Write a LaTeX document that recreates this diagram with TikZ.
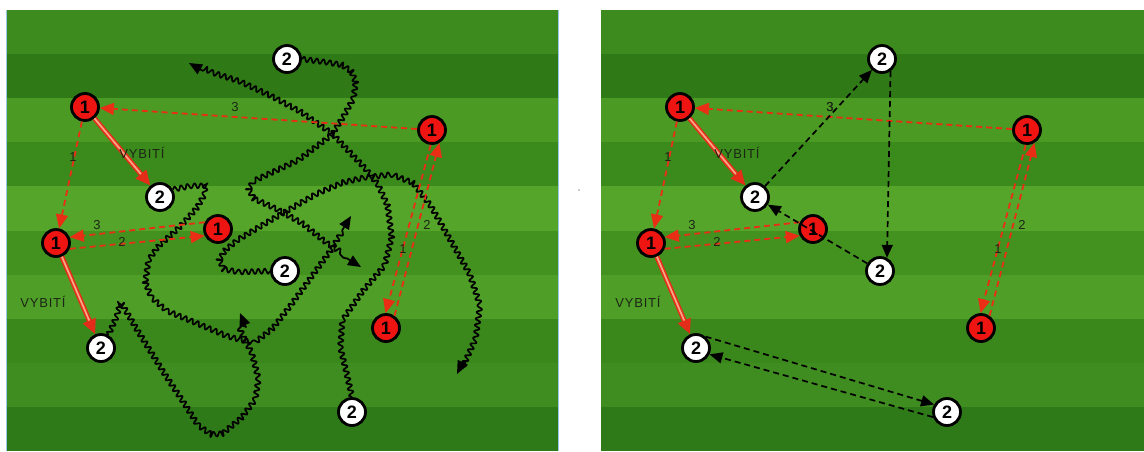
\documentclass[tikz,border=0pt]{standalone}
\usepackage{fontspec}
\setmainfont{Liberation Sans}
\usetikzlibrary{arrows.meta,decorations.pathmorphing,calc}
\definecolor{gA}{HTML}{3D8A1F}
\definecolor{gB}{HTML}{2F7A16}
\definecolor{gC}{HTML}{4A9A24}
\definecolor{gD}{HTML}{3B8A1C}
\definecolor{gE}{HTML}{55A52A}
\definecolor{gF}{HTML}{43921F}
\definecolor{gG}{HTML}{4F9E27}
\definecolor{gH}{HTML}{3A881C}
\definecolor{gI}{HTML}{3F8C20}
\definecolor{gJ}{HTML}{2F7A18}
\definecolor{pfill}{RGB}{238,20,18}
\definecolor{rdash}{RGB}{234,46,22}
\definecolor{vred}{RGB}{228,45,25}
\definecolor{vorange}{RGB}{250,165,130}
\definecolor{labc}{RGB}{28,38,22}
\definecolor{edgeblue}{RGB}{150,200,230}

\newcommand\pitchbands[2]{%
  \foreach \c [count=\i from 0] in {gA,gB,gC,gD,gE,gF,gG,gH,gI,gJ}{%
    \fill[\c] (#1,{10+44.1*\i}) rectangle (#2,{10+44.1*(\i+1)});
  }}

\newcommand\players[2]{%
  \node[pone] (#1A) at ({#2+85},107) {1};
  \node[pone] (#1B) at ({#2+56},243) {1};
  \node[pone] (#1C) at ({#2+218},229) {1};
  \node[pone] (#1D) at ({#2+432},130) {1};
  \node[pone] (#1E) at ({#2+386},328) {1};
  \node[ptwo] (#1a) at ({#2+287},59) {2};
  \node[ptwo] (#1b) at ({#2+160},197) {2};
  \node[ptwo] (#1c) at ({#2+285},271) {2};
  \node[ptwo] (#1d) at ({#2+101},348) {2};
  \node[ptwo] (#1e) at ({#2+352},412) {2};
}

\newcommand\redpasses[2]{%
  \draw[rd] (#1A) -- (#1B);
  \draw[rd] (#1D) -- (#1A);
  \draw[rd] (#1C.153) -- (#1B.23);
  \draw[rd] (#1B.-23) -- (#1C.207);
  \draw[rd] (#1D.-95) -- (#1E.92);
  \draw[rd] (#1E.55) -- (#1D.-60);
  \draw[vyb] (#1A) -- (#1b);
  \draw[vyb] (#1B) -- (#1d);
  \node[lab] (#1n1) at ({#2+73},157) {1};
  \node[lab] (#1n2) at ({#2+235},107) {3};
  \node[lab] (#1n3) at ({#2+97},225) {3};
  \node[lab] (#1n4) at ({#2+122},242) {2};
  \node[lab] (#1n5) at ({#2+403},249) {1};
  \node[lab] (#1n6) at ({#2+427},225) {2};
  \node[vlab] (#1v1) at ({#2+142},153) {VYBITÍ};
  \node[vlab] (#1v2) at ({#2+43},302) {VYBITÍ};
}

\begin{document}
\begin{tikzpicture}[x=1pt,y=-1pt,
  pone/.style={circle, draw=black, line width=2.8pt, fill=pfill, minimum size=27pt,
    inner sep=0pt, font=\fontsize{18}{18}\selectfont\bfseries},
  ptwo/.style={pone, fill=white},
  rd/.style={draw=rdash, line width=1.8pt, dash pattern=on 6pt off 4pt,
    -{Triangle[length=14pt,width=12pt]}},
  bd/.style={draw=black, line width=1.7pt, dash pattern=on 6pt off 4pt,
    -{Triangle[length=13pt,width=11pt]}},
  vyb/.style={draw=vred, line width=5pt, -{Triangle[length=15pt,width=13pt]},
    postaction={draw=vorange, line width=1.8pt, -, shorten >=15pt}},
  lab/.style={font=\fontsize{13}{13}\selectfont, text=labc, inner sep=0pt},
  vlab/.style={font=\fontsize{13}{13}\selectfont\addfontfeature{LetterSpace=6}, text=labc, inner sep=0pt},
  wavy/.style={draw=black, line width=1.7pt, line join=round, decorate,
    decoration={snake, segment length=6.5pt, amplitude=2.6pt}},
  wtip/.style={draw=black, line width=1.7pt, -{Triangle[length=13pt,width=11pt]}}
]
\useasboundingbox (0,0) rectangle (1144,451);
\fill[white] (0,0) rectangle (1144,451);
\pitchbands{6}{558}
\pitchbands{601}{1144}
\draw[edgeblue, line width=1pt] (6.5,10) -- (6.5,451);
\draw[edgeblue, line width=0.8pt] (558,10) -- (558,451);
\fill[gray!80] (579,190) circle (0.9pt);

% players
\players{L}{0}
\players{R}{595}

% dribbling paths (left pitch)
\coordinate (t1) at (361,267);
\coordinate (t2) at (351,216);
\coordinate (t3) at (457,374);
\coordinate (t4) at (240,313);
\coordinate (t5) at (189,63);
\coordinate (q1) at ($(t1)!14pt!(330,248)$);
\coordinate (q2) at ($(t2)!14pt!(330,250)$);
\coordinate (q3) at ($(t3)!14pt!(468,352)$);
\coordinate (q4) at ($(t4)!14pt!(250,338)$);
\coordinate (q5) at ($(t5)!14pt!(212,76)$);
\draw[wavy] (La.east) -- (325,62) -- (342,65) -- (352,72) -- (357,85) -- (355,100) -- (345,118) -- (333,137) -- (300,162) -- (272,175) -- (255,183) -- (250,192) -- (256,203) -- (280,214) -- (305,228) -- (330,248) -- (q1);
\draw[wavy] (Lb.30) -- (190,186) -- (206,186) -- (206,196) -- (198,210) -- (180,230) -- (160,248) -- (150,262) -- (147,283) -- (153,298) -- (168,311) -- (197,323) -- (230,337) -- (253,343) -- (272,328) -- (290,305) -- (330,250) -- (q2);
\draw[wavy] (Lc.west) -- (240,272) -- (225,269) -- (220,258) -- (228,245) -- (240,235) -- (277,213) -- (317,190) -- (345,178) -- (367,173) -- (395,170) -- (415,178) -- (432,200) -- (455,240) -- (472,270) -- (482,300) -- (478,330) -- (468,352) -- (q3);
\draw[wavy] (Ld.60) -- (116,318) -- (119,305) -- (126,306) -- (140,330) -- (168,375) -- (188,405) -- (202,427) -- (215,436) -- (230,435) -- (248,420) -- (263,400) -- (266,380) -- (260,357) -- (250,338) -- (q4);
\draw[wavy] (Le.north) -- (347,375) -- (341,350) -- (343,322) -- (362,295) -- (385,268) -- (392,240) -- (388,210) -- (378,188) -- (367,174) -- (333,138) -- (300,115) -- (272,100) -- (240,85) -- (212,76) -- (q5);
\draw[wtip] (q1) -- (t1);
\draw[wtip] (q2) -- (t2);
\draw[wtip] (q3) -- (t3);
\draw[wtip] (q4) -- (t4);
\draw[wtip] (q5) -- (t5);

% passes
\redpasses{L}{0}
\redpasses{R}{595}

% right pitch black passes
\draw[bd] (Rb) -- (Ra);
\draw[bd] (Ra.-55) -- (Rc.62);
\draw[bd] (Rc) -- (Rb);
\draw[bd] (Rd.50) -- (Re.150);
\draw[bd] (Re.200) -- (Rd.-25);
\node[lab] (Rk3) at (830,107) {3};
\end{tikzpicture}
\end{document}
